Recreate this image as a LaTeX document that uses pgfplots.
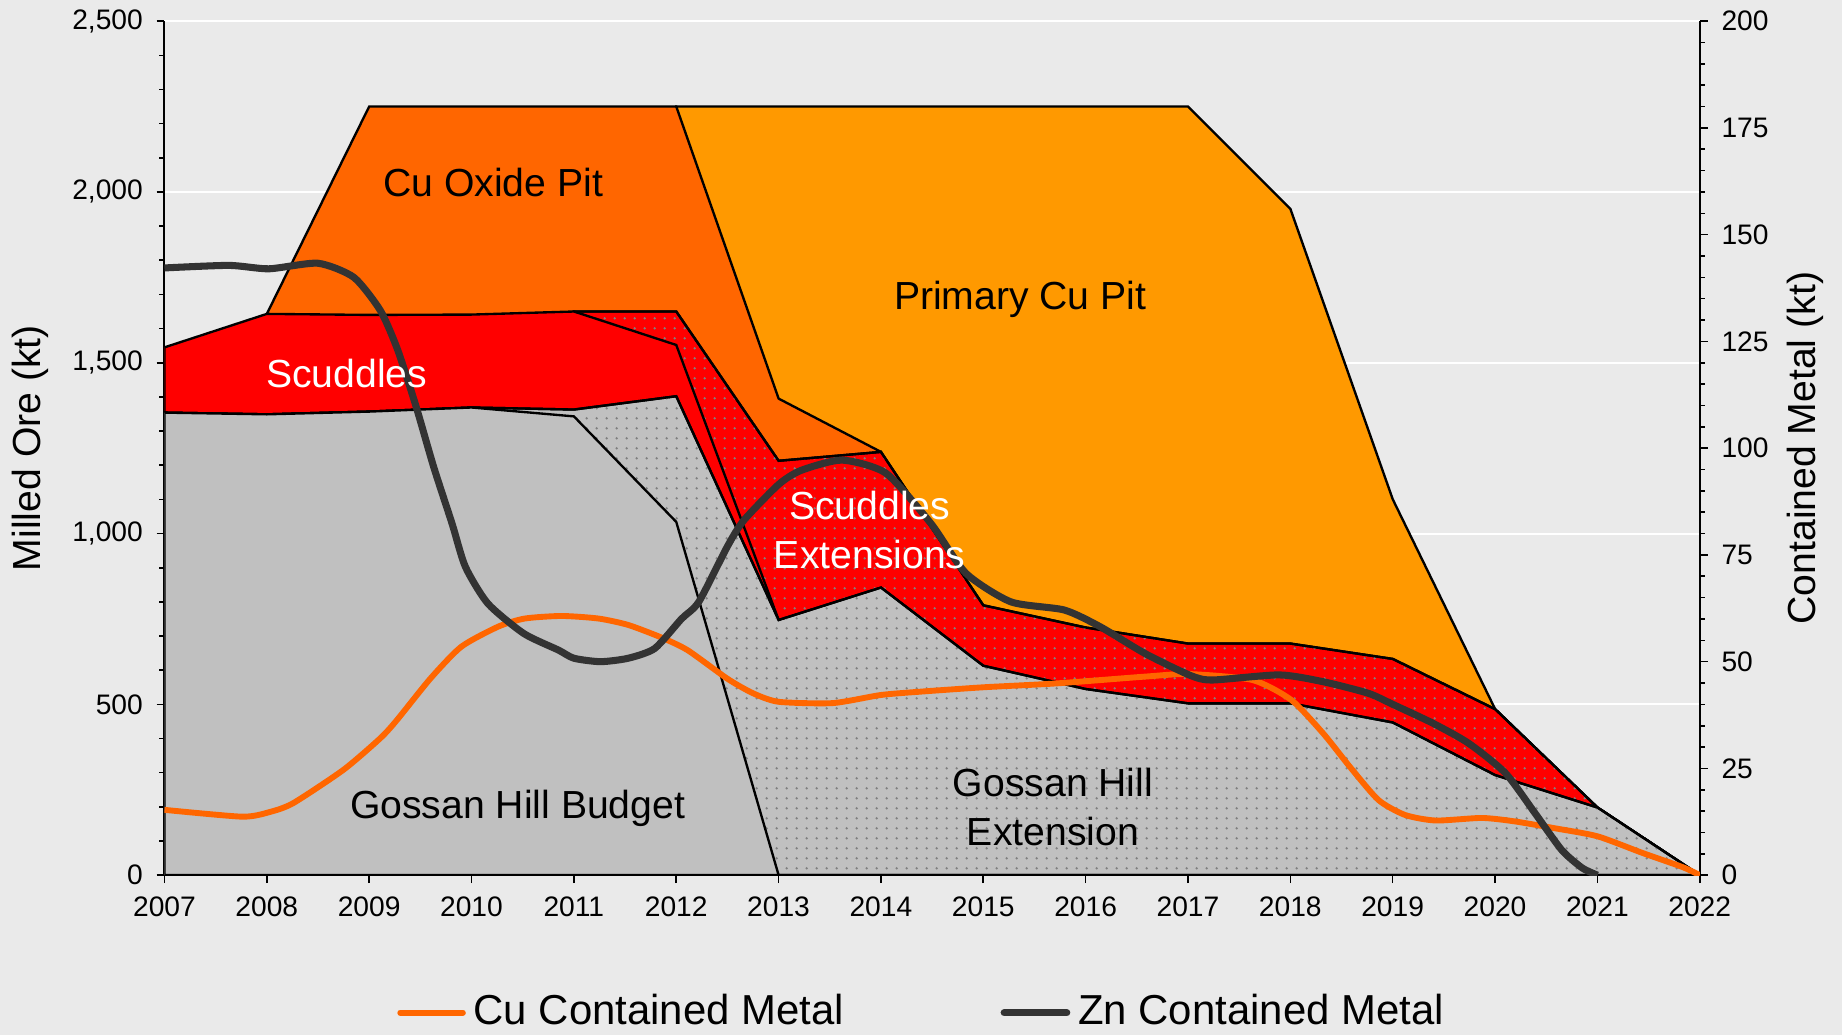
\documentclass[border=0pt]{standalone}
\usepackage{fontspec}
\setmainfont{Liberation Sans}
\usepackage{pgfplots}
\pgfplotsset{compat=1.18}
\usetikzlibrary{patterns.meta}

\definecolor{bgc}{HTML}{EAEAEA}
\definecolor{ghgray}{HTML}{C0C0C0}
\definecolor{cuoxide}{HTML}{FF6600}
\definecolor{primcu}{HTML}{FF9900}
\definecolor{scud}{HTML}{FF0000}
\definecolor{culine}{HTML}{FF6600}
\definecolor{znline}{HTML}{333333}
\definecolor{dotc}{HTML}{808080}

\tikzdeclarepattern{
  name=fdots,
  type=uncolored,
  bottom left={(0pt,0pt)},
  top right={(2.6pt,2.6pt)},
  tile size={(2.6pt,2.6pt)},
  code={\pgfpathcircle{\pgfqpoint{1.3pt}{1.3pt}}{0.36pt}\pgfusepath{fill}}
}

\newcommand{\tickfont}{\fontsize{7.2}{8.6}\selectfont}
\newcommand{\labfont}{\fontsize{10}{12.6}\selectfont}

\pgfplotsset{
  common/.style={
    at={(42pt,40.8pt)}, anchor=south west,
    scale only axis, width=392.1pt, height=218.1pt,
    xmin=2007, xmax=2022,
    tick align=outside,
    major tick length=2pt, minor tick length=1.3pt,
    tick style={black, line width=0.4pt},
    axis line style={black, line width=0.5pt},
    ticklabel style={font=\tickfont},
    /pgf/number format/assume math mode=true,
    label style={font=\labfont},
  },
  area/.style={draw=black, line width=0.6pt, line join=miter},
  dotted area/.style={area, postaction={pattern=fdots, pattern color=dotc}},
}

\begin{document}
\begin{tikzpicture}
\fill[bgc] (0,0) rectangle (470.4pt,264.3pt);
\useasboundingbox (0,0) rectangle (470.4pt,264.3pt);

% left axis: milled ore areas
\begin{axis}[
  common,
  axis x line*=bottom, axis y line*=left,
  ymin=0, ymax=2500,
  ytick={0,500,...,2500}, minor y tick num=4,
  xtick={2007,...,2022},
  xticklabel style={/pgf/number format/1000 sep={}},
  yticklabel style={/pgf/number format/1000 sep={,}},
  ymajorgrids, major grid style={white, line width=0.5pt},
  ylabel={Milled Ore (kt)},
  ylabel style={at={(axis description cs:-0.0872,0.5)}, anchor=center},
]
% Primary Cu Pit
\addplot[area, fill=primcu] coordinates {
 (2012,2250) (2013,2250) (2014,2250) (2015,2250) (2016,2250) (2017,2250)
 (2018,1950) (2019,1100) (2020,486) (2021,198) (2022,0)} \closedcycle;
% Cu Oxide Pit
\addplot[area, fill=cuoxide] coordinates {
 (2008,1643) (2009,2250) (2010,2250) (2011,2250) (2012,2250) (2013,1395) (2014,1239)} \closedcycle;
% Scuddles Extensions
\addplot[dotted area, fill=scud] coordinates {
 (2011,1650) (2012,1650) (2013,1213) (2014,1239) (2015,790) (2016,725)
 (2017,678) (2018,678) (2019,633) (2020,486) (2021,198) (2022,0)} \closedcycle;
% Scuddles
\addplot[area, fill=scud] coordinates {
 (2007,1545) (2008,1643) (2009,1640) (2010,1641) (2011,1650) (2012,1552) (2013,747)} \closedcycle;
% Gossan Hill Extension
\addplot[dotted area, fill=ghgray] coordinates {
 (2007,1354) (2008,1349) (2009,1357) (2010,1369) (2011,1363) (2012,1402) (2013,747)
 (2014,842) (2015,613) (2016,545) (2017,503) (2018,503) (2019,447) (2020,293)
 (2021,198) (2022,0)} \closedcycle;
% Gossan Hill Budget
\addplot[area, fill=ghgray] coordinates {
 (2007,1354) (2008,1349) (2009,1357) (2010,1369) (2011,1343) (2012,1034) (2013,0)} \closedcycle;
\end{axis}

% right axis: contained metal lines
\begin{axis}[
  common,
  axis x line=none, axis y line*=right,
  ymin=0, ymax=200,
  ytick={0,25,...,200}, minor y tick num=4,
  ylabel={Contained Metal (kt)},
  ylabel style={at={(axis description cs:1.0689,0.5)}, anchor=center},
  legend style={at={(0.495,-0.161)}, anchor=center, draw=none, fill=none,
    font=\fontsize{10.7}{12}\selectfont, legend columns=2,
    /tikz/every even column/.append style={column sep=38pt}},
  legend cell align=left,
  legend image code/.code={\draw[#1, line cap=round] (0pt,0pt) -- (16pt,0pt);},
]
\addplot[culine, line width=1.5pt, smooth, tension=0.4] coordinates {
 (2007.00,15.3) (2007.76,13.7) (2008.03,14.8) (2008.26,16.9) (2008.75,24.7)
 (2009.11,32.1) (2009.27,36.3) (2009.60,46.1) (2009.90,53.5) (2010.26,58.2)
 (2010.52,60.1) (2010.88,60.7) (2011.24,60.1) (2011.53,58.6) (2011.85,55.7)
 (2012.11,52.7) (2012.50,46.0) (2012.75,42.6) (2013.00,40.6) (2013.53,40.3)
 (2014.00,42.2) (2014.40,43.0) (2015.00,44.0) (2015.71,44.9) (2016.58,46.5)
 (2017.01,47.1) (2017.63,45.7) (2018.01,41.0) (2018.32,33.2) (2018.58,25.4)
 (2018.86,17.6) (2019.12,14.1) (2019.42,12.8) (2019.87,13.4) (2020.19,12.6)
 (2020.58,11.0) (2021.00,9.1) (2021.44,5.2) (2021.83,1.9) (2022.00,0)};
\addlegendentry{Cu Contained Metal}
\addplot[znline, line width=1.8pt, smooth, tension=0.4] coordinates {
 (2007.00,142.2) (2007.63,142.8) (2008.02,142.0) (2008.50,143.3) (2008.85,140.0)
 (2009.11,132.2) (2009.28,122.9) (2009.46,109.6) (2009.63,95.6) (2009.81,82.3)
 (2009.94,72.2) (2010.16,63.6) (2010.51,56.6) (2010.85,52.7) (2011.00,50.8)
 (2011.26,50.0) (2011.53,50.8) (2011.79,53.1) (2012.05,60.0) (2012.22,64.0)
 (2012.50,77.0) (2012.66,83.1) (2013.00,91.5) (2013.22,94.8) (2013.62,97.2)
 (2014.05,94.1) (2014.49,82.3) (2014.83,70.7) (2015.27,64.0) (2015.79,62.1)
 (2016.14,58.2) (2016.58,51.9) (2017.01,46.9) (2017.23,45.7) (2017.89,46.9)
 (2018.32,45.3) (2018.76,42.6) (2019.00,40.0) (2019.39,35.6) (2019.74,30.9)
 (2020.10,23.9) (2020.39,14.5) (2020.65,5.9) (2020.85,1.7) (2021.00,0)};
\addlegendentry{Zn Contained Metal}

\node[font=\labfont] at (axis cs:2010.21,162.3) {Cu Oxide Pit};
\node[font=\labfont] at (axis cs:2015.36,134.8) {Primary Cu Pit};
\node[font=\labfont, white] at (axis cs:2008.78,117.4) {Scuddles};
\node[font=\labfont, white, align=center] at (axis cs:2013.89,80.9) {Scuddles\\Extensions};
\node[font=\labfont] at (axis cs:2010.45,15.7) {Gossan Hill Budget};
\node[font=\labfont, align=center] at (axis cs:2015.68,15.9) {Gossan Hill\\Extension};
\end{axis}
\end{tikzpicture}
\end{document}
